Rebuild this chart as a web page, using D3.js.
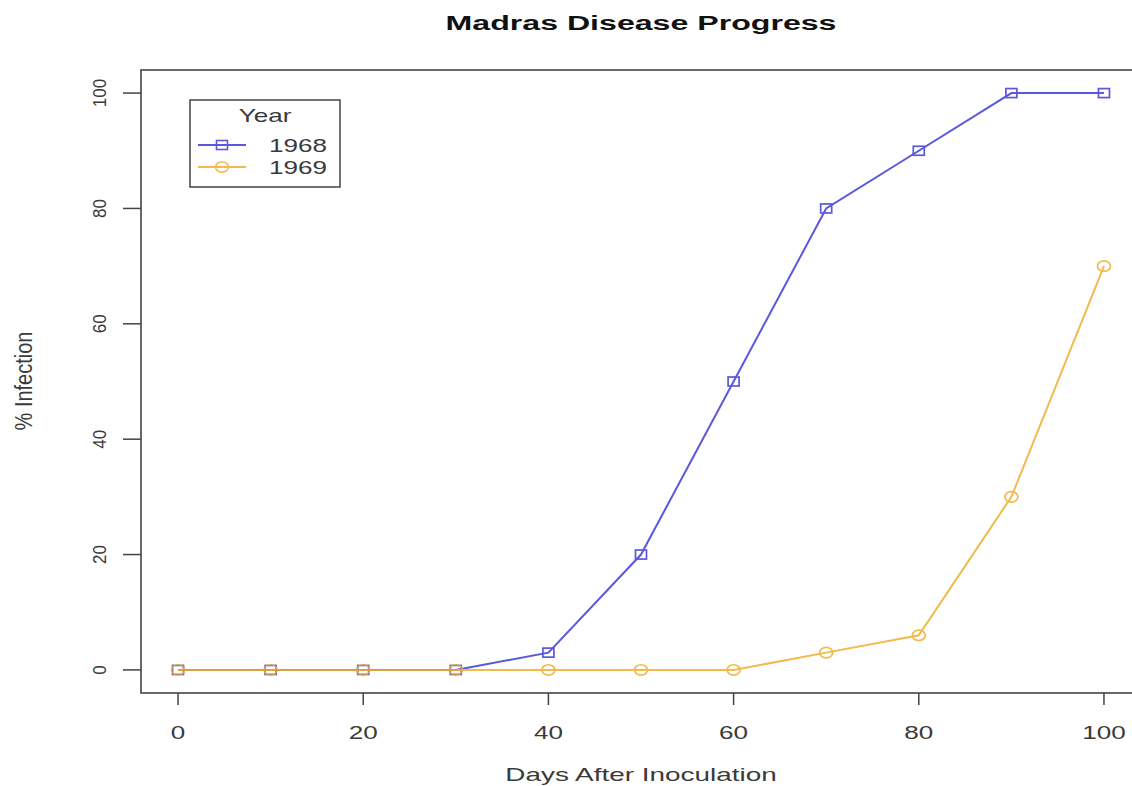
<!DOCTYPE html>
<html><head><meta charset="utf-8">
<script src="https://cdn.jsdelivr.net/npm/d3@7"></script>
<style>html,body{margin:0;padding:0;background:#fff}</style>
</head><body>
<script>
const days = [0,10,20,30,40,50,60,70,80,90,100];
const infection1968 = [0,0,0,0,3,20,50,80,90,100,100];
const infection1969 = [0,0,0,0,0,0,0,3,6,30,70];
const xTicks = [0,20,40,60,80,100];
const yTicks = [0,20,40,60,80,100];
const seriesNames = ["1968","1969"];
const seriesColors = ["#4a46d8","#f2ad2c"];

const W=1132,H=786, SX=1.45;
const svg=d3.select("body").append("svg").attr("width",W).attr("height",H)
  .style("font-family","'Liberation Sans',Arial,Helvetica,sans-serif");
const x=d3.scaleLinear().domain([-4,104]).range([141,1141]);
const y=d3.scaleLinear().domain([-4,104]).range([693,70]);
const ink="#3a3a3a";

function stext(px,py,str,size,opts={}){
  const g=svg.append("g").attr("transform",`translate(${px},${py}) scale(${opts.sx||SX},1)${opts.rot?" rotate("+opts.rot+")":""}`);
  return g.append("text").attr("text-anchor",opts.anchor||"middle").attr("font-size",size)
    .attr("font-weight",opts.bold?"bold":"normal").attr("fill",opts.fill||ink).text(str);
}

// box
svg.append("rect").attr("x",x(-4)).attr("y",y(104)).attr("width",x(104)-x(-4)).attr("height",y(-4)-y(104))
  .attr("fill","none").attr("stroke","#444").attr("stroke-width",1.6);

// x axis ticks
svg.append("g").selectAll("line").data(xTicks).join("line")
  .attr("x1",d=>x(d)).attr("x2",d=>x(d)).attr("y1",y(-4)).attr("y2",y(-4)+12)
  .attr("stroke","#444").attr("stroke-width",1.5);
xTicks.forEach(t=>stext(x(t),739,String(t),18));
// y axis ticks
svg.append("g").selectAll("line").data(yTicks).join("line")
  .attr("x1",x(-4)).attr("x2",x(-4)-18).attr("y1",d=>y(d)).attr("y2",d=>y(d))
  .attr("stroke","#444").attr("stroke-width",1.5);
yTicks.forEach(t=>stext(106,y(t),String(t),17,{sx:1.05,rot:-90}));

// titles
stext(641,30,"Madras Disease Progress",21,{bold:true,sx:1.53,fill:"#111"});
stext(641,781,"Days After Inoculation",18,{sx:1.55});
stext(32,381,"% Infection",20,{sx:1.15,rot:-90});

const line=d3.line().x(d=>x(d[0])).y(d=>y(d[1]));
const series=[infection1968,infection1969];
series.forEach((vals,i)=>{
  const pts=days.map((d,j)=>[d,vals[j]]);
  const g=svg.append("g").attr("opacity",i===0?0.9:0.85);
  g.append("path").datum(pts).attr("d",line).attr("fill","none")
    .attr("stroke",seriesColors[i]).attr("stroke-width",2);
  if(i===0){
    g.selectAll("rect").data(pts).join("rect")
      .attr("x",d=>x(d[0])-5.5).attr("y",d=>y(d[1])-4.5).attr("width",11).attr("height",9)
      .attr("fill","none").attr("stroke",seriesColors[i]).attr("stroke-width",1.7);
  } else {
    g.selectAll("ellipse").data(pts).join("ellipse")
      .attr("cx",d=>x(d[0])).attr("cy",d=>y(d[1])).attr("rx",6.5).attr("ry",5.2)
      .attr("fill","none").attr("stroke",seriesColors[i]).attr("stroke-width",1.7);
  }
});

// legend
svg.append("rect").attr("x",190).attr("y",100).attr("width",150).attr("height",87)
  .attr("fill","#fff").attr("stroke","#444").attr("stroke-width",1.5);
stext(265,122,"Year",18);
seriesNames.forEach((nm,i)=>{
  const ly=145+i*22;
  const g=svg.append("g").attr("opacity",i===0?0.9:0.85);
  g.append("line").attr("x1",198).attr("x2",246).attr("y1",ly).attr("y2",ly)
    .attr("stroke",seriesColors[i]).attr("stroke-width",1.8);
  if(i===0) g.append("rect").attr("x",222-5.5).attr("y",ly-4.5).attr("width",11).attr("height",9)
    .attr("fill","none").attr("stroke",seriesColors[i]).attr("stroke-width",1.6);
  else g.append("ellipse").attr("cx",222).attr("cy",ly).attr("rx",6.5).attr("ry",5.2)
    .attr("fill","none").attr("stroke",seriesColors[i]).attr("stroke-width",1.6);
  stext(327,ly+7,nm,18,{anchor:"end"});
});
</script>
</body></html>
